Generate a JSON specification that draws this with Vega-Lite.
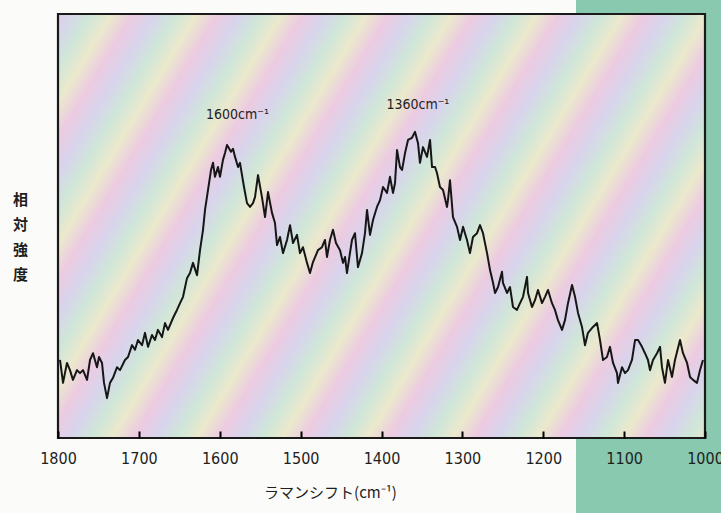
{
  "$schema": "https://vega.github.io/schema/vega-lite/v6.json",
  "width": 647,
  "height": 424,
  "autosize": {"type": "none"},
  "padding": {"left": 58, "top": 14, "right": 16, "bottom": 75},
  "background": "#fbfbfa",
  "config": {"view": {"stroke": null}},
  "datasets": {
    "spectrum": [
      {"w":1797.5,"i":18.4},{"w":1793.8,"i":13.0},{"w":1788.9,"i":17.7},{"w":1785.2,"i":16.0},{"w":1781.5,"i":13.7},
      {"w":1776.5,"i":16.0},{"w":1772.8,"i":15.3},{"w":1769.1,"i":16.0},{"w":1764.1,"i":13.7},{"w":1760.4,"i":18.4},
      {"w":1756.7,"i":20.0},{"w":1751.8,"i":16.7},{"w":1749.3,"i":19.1},{"w":1745.6,"i":17.7},{"w":1743.1,"i":13.0},
      {"w":1739.4,"i":9.4},{"w":1735.7,"i":13.0},{"w":1732.0,"i":14.2},{"w":1727.0,"i":16.7},{"w":1723.3,"i":16.0},
      {"w":1717.2,"i":18.4},{"w":1713.4,"i":19.1},{"w":1708.5,"i":21.9},{"w":1704.8,"i":20.8},{"w":1701.1,"i":23.1},
      {"w":1696.1,"i":21.9},{"w":1692.4,"i":24.8},{"w":1688.7,"i":21.5},{"w":1683.8,"i":24.3},{"w":1680.1,"i":23.1},
      {"w":1676.4,"i":25.5},{"w":1671.4,"i":23.8},{"w":1667.7,"i":27.1},{"w":1664.0,"i":25.5},{"w":1657.8,"i":28.3},
      {"w":1652.9,"i":30.2},{"w":1649.1,"i":31.8},{"w":1645.4,"i":33.3},{"w":1640.5,"i":37.7},{"w":1636.8,"i":38.9},
      {"w":1633.1,"i":41.3},{"w":1628.1,"i":38.4},{"w":1624.4,"i":44.3},{"w":1620.7,"i":49.1},{"w":1618.2,"i":53.8},
      {"w":1614.5,"i":58.5},{"w":1610.8,"i":63.2},{"w":1608.3,"i":64.9},{"w":1605.9,"i":61.6},{"w":1602.2,"i":63.9},
      {"w":1599.7,"i":61.6},{"w":1596.0,"i":65.6},{"w":1593.5,"i":67.2},{"w":1591.0,"i":69.1},{"w":1586.1,"i":67.5},
      {"w":1583.6,"i":68.2},{"w":1581.1,"i":66.3},{"w":1577.4,"i":63.9},{"w":1575.0,"i":64.9},{"w":1570.0,"i":59.2},
      {"w":1566.3,"i":55.4},{"w":1562.6,"i":54.5},{"w":1558.9,"i":55.4},{"w":1556.4,"i":56.8},{"w":1552.7,"i":62.0},
      {"w":1547.8,"i":56.8},{"w":1544.0,"i":52.1},{"w":1540.3,"i":58.0},{"w":1535.4,"i":53.1},{"w":1531.7,"i":50.7},
      {"w":1529.2,"i":45.5},{"w":1525.5,"i":47.4},{"w":1521.8,"i":43.6},{"w":1516.8,"i":46.7},{"w":1513.1,"i":50.2},
      {"w":1509.4,"i":46.0},{"w":1504.5,"i":47.9},{"w":1500.8,"i":43.6},{"w":1497.1,"i":45.0},{"w":1492.1,"i":41.3},
      {"w":1488.4,"i":38.9},{"w":1484.7,"i":41.5},{"w":1478.5,"i":44.3},{"w":1473.6,"i":45.0},{"w":1469.9,"i":46.7},
      {"w":1467.4,"i":42.7},{"w":1463.7,"i":46.7},{"w":1460.0,"i":49.1},{"w":1456.3,"i":46.0},{"w":1451.3,"i":44.3},
      {"w":1447.6,"i":41.3},{"w":1445.1,"i":42.7},{"w":1442.7,"i":38.9},{"w":1439.0,"i":43.6},{"w":1436.5,"i":46.7},
      {"w":1432.8,"i":48.3},{"w":1429.1,"i":40.3},{"w":1424.1,"i":43.6},{"w":1420.4,"i":48.3},{"w":1417.9,"i":53.8},
      {"w":1414.2,"i":47.9},{"w":1410.5,"i":51.4},{"w":1405.6,"i":54.5},{"w":1401.8,"i":56.1},{"w":1398.1,"i":59.2},
      {"w":1393.2,"i":57.8},{"w":1389.5,"i":61.6},{"w":1385.8,"i":57.8},{"w":1383.3,"i":60.1},{"w":1380.8,"i":67.9},
      {"w":1377.1,"i":63.9},{"w":1374.6,"i":63.2},{"w":1370.9,"i":67.2},{"w":1367.2,"i":70.3},{"w":1362.3,"i":70.8},
      {"w":1358.6,"i":72.2},{"w":1354.9,"i":69.6},{"w":1352.4,"i":64.9},{"w":1348.7,"i":68.6},{"w":1343.7,"i":66.3},
      {"w":1340.0,"i":70.3},{"w":1337.5,"i":63.9},{"w":1333.8,"i":63.9},{"w":1331.4,"i":62.5},{"w":1327.7,"i":59.2},
      {"w":1323.9,"i":58.5},{"w":1319.0,"i":54.5},{"w":1317.8,"i":56.1},{"w":1315.3,"i":60.8},{"w":1311.6,"i":52.1},
      {"w":1306.6,"i":49.8},{"w":1302.9,"i":46.7},{"w":1299.2,"i":49.8},{"w":1294.3,"i":46.7},{"w":1290.6,"i":43.6},
      {"w":1286.9,"i":47.4},{"w":1281.9,"i":48.3},{"w":1278.2,"i":50.2},{"w":1274.5,"i":48.3},{"w":1269.5,"i":43.6},
      {"w":1265.8,"i":39.6},{"w":1262.1,"i":36.6},{"w":1259.6,"i":34.2},{"w":1255.9,"i":35.6},{"w":1251.0,"i":39.2},
      {"w":1249.8,"i":36.6},{"w":1244.8,"i":34.2},{"w":1241.1,"i":35.6},{"w":1237.4,"i":30.9},{"w":1232.5,"i":30.2},
      {"w":1228.7,"i":31.8},{"w":1225.0,"i":33.3},{"w":1220.1,"i":38.0},{"w":1218.8,"i":34.2},{"w":1213.9,"i":30.9},
      {"w":1210.2,"i":32.5},{"w":1206.5,"i":34.9},{"w":1201.5,"i":31.8},{"w":1197.8,"i":33.3},{"w":1194.1,"i":34.9},
      {"w":1189.2,"i":31.8},{"w":1185.5,"i":30.2},{"w":1181.8,"i":27.8},{"w":1176.8,"i":25.5},{"w":1173.1,"i":27.8},
      {"w":1169.4,"i":31.8},{"w":1164.4,"i":36.1},{"w":1160.7,"i":33.3},{"w":1157.0,"i":29.5},{"w":1152.1,"i":26.2},
      {"w":1148.4,"i":21.9},{"w":1144.7,"i":24.8},{"w":1138.5,"i":26.2},{"w":1133.5,"i":27.1},{"w":1129.8,"i":23.1},
      {"w":1126.1,"i":18.4},{"w":1121.2,"i":19.1},{"w":1117.5,"i":21.5},{"w":1113.7,"i":17.7},{"w":1108.8,"i":15.3},
      {"w":1107.6,"i":13.0},{"w":1102.6,"i":16.7},{"w":1098.9,"i":15.3},{"w":1095.2,"i":16.0},{"w":1090.3,"i":18.4},
      {"w":1086.5,"i":23.1},{"w":1082.8,"i":23.1},{"w":1077.9,"i":21.5},{"w":1074.2,"i":20.0},{"w":1070.5,"i":18.4},
      {"w":1068.0,"i":16.0},{"w":1064.3,"i":18.4},{"w":1059.3,"i":20.0},{"w":1055.6,"i":21.5},{"w":1053.2,"i":16.7},
      {"w":1049.5,"i":13.0},{"w":1045.7,"i":18.4},{"w":1040.8,"i":14.4},{"w":1037.1,"i":18.4},{"w":1030.9,"i":23.1},
      {"w":1027.2,"i":20.0},{"w":1022.2,"i":17.7},{"w":1018.5,"i":14.4},{"w":1014.8,"i":13.7},{"w":1009.9,"i":13.0},
      {"w":1006.2,"i":16.0},{"w":1002.5,"i":18.4}
    ],
    "labels": [
      {"w": 1578, "i": 76.2, "text": "1600cm⁻¹"},
      {"w": 1355, "i": 78.5, "text": "1360cm⁻¹"}
    ]
  },
  "layer": [
    {
      "data": {"values": [{}]},
      "mark": {"type": "rect", "color": "#88c9b0", "clip": false},
      "encoding": {
        "x": {"datum": 1159.5, "type": "quantitative"},
        "x2": {"datum": 960},
        "y": {"datum": 104, "type": "quantitative"},
        "y2": {"datum": -20}
      }
    },
    {
      "data": {"values": [{}]},
      "mark": {
        "type": "rect",
        "color": {
          "gradient": "linear", "x1": 0, "y1": 0, "x2": 1.207, "y2": 0.476,
          "stops": [
            {"offset": 0, "color": "#e2d0e7"},
            {"offset": 0.0122, "color": "#d8d4ec"},{"offset": 0.0358, "color": "#cfe6d9"},{"offset": 0.0594, "color": "#ebe9cc"},
            {"offset": 0.083, "color": "#eccbe1"},{"offset": 0.1066, "color": "#d8d4ec"},{"offset": 0.1302, "color": "#cfe6d9"},
            {"offset": 0.1538, "color": "#ebe9cc"},{"offset": 0.1774, "color": "#eccbe1"},{"offset": 0.201, "color": "#d8d4ec"},
            {"offset": 0.2246, "color": "#cfe6d9"},{"offset": 0.2482, "color": "#ebe9cc"},{"offset": 0.2718, "color": "#eccbe1"},
            {"offset": 0.2954, "color": "#d8d4ec"},{"offset": 0.319, "color": "#cfe6d9"},{"offset": 0.3426, "color": "#ebe9cc"},
            {"offset": 0.3662, "color": "#eccbe1"},{"offset": 0.3898, "color": "#d8d4ec"},{"offset": 0.4134, "color": "#cfe6d9"},
            {"offset": 0.437, "color": "#ebe9cc"},{"offset": 0.4606, "color": "#eccbe1"},{"offset": 0.4842, "color": "#d8d4ec"},
            {"offset": 0.5078, "color": "#cfe6d9"},{"offset": 0.5314, "color": "#ebe9cc"},{"offset": 0.555, "color": "#eccbe1"},
            {"offset": 0.5786, "color": "#d8d4ec"},{"offset": 0.6022, "color": "#cfe6d9"},{"offset": 0.6258, "color": "#ebe9cc"},
            {"offset": 0.6494, "color": "#eccbe1"},{"offset": 0.673, "color": "#d8d4ec"},{"offset": 0.6966, "color": "#cfe6d9"},
            {"offset": 0.7202, "color": "#ebe9cc"},{"offset": 0.7438, "color": "#eccbe1"},{"offset": 0.7674, "color": "#d8d4ec"},
            {"offset": 0.791, "color": "#cfe6d9"},{"offset": 0.8146, "color": "#ebe9cc"},{"offset": 0.8382, "color": "#eccbe1"},
            {"offset": 0.8618, "color": "#d8d4ec"},{"offset": 0.8854, "color": "#cfe6d9"},{"offset": 0.909, "color": "#ebe9cc"},
            {"offset": 0.9326, "color": "#eccbe1"},{"offset": 0.9562, "color": "#d8d4ec"},{"offset": 0.9798, "color": "#cfe6d9"},
            {"offset": 1, "color": "#e6e5d1"}
          ]
        }
      },
      "encoding": {
        "x": {"datum": 1800, "type": "quantitative"},
        "x2": {"datum": 1000},
        "y": {"datum": 100, "type": "quantitative"},
        "y2": {"datum": 0}
      }
    },
    {
      "data": {"name": "spectrum"},
      "mark": {"type": "line", "color": "#161616", "strokeWidth": 2, "strokeJoin": "round"},
      "encoding": {
        "x": {
          "field": "w", "type": "quantitative",
          "scale": {"domain": [1000, 1800], "reverse": true, "nice": false, "zero": false},
          "axis": {
            "zindex": 3,
            "offset": -7,
            "values": [1800, 1700, 1600, 1500, 1400, 1300, 1200, 1100, 1000],
            "format": "d",
            "domain": false, "grid": false,
            "ticks": true, "tickSize": 7, "tickColor": "#000000", "tickWidth": 2, "tickOpacity": 1,
            "labelFont": "Liberation Sans Narrow, DejaVu Sans Condensed, sans-serif",
            "labelFontSize": 16, "labelColor": "#1e1e1e", "labelPadding": 12,
            "labelFlush": false,
            "labelDx": -2,
            "title": "ラマンシフト(cm⁻¹)",
            "titleFont": "Noto Sans CJK JP", "titleFontSize": 15, "titleFontWeight": "normal",
            "titleColor": "#1e1e1e", "titleX": 272, "titleY": 61, "titleAlign": "center", "titleBaseline": "middle"
          }
        },
        "y": {
          "field": "i", "type": "quantitative",
          "scale": {"domain": [0, 100], "nice": false, "zero": false},
          "axis": {
            "zindex": 3,
            "labels": false, "ticks": false, "domain": false, "grid": false,
            "title": ["相", "対", "強", "度"],
            "titleAngle": 0, "titleFont": "Noto Sans CJK JP", "titleFontSize": 15, "titleFontWeight": "bold",
            "titleColor": "#1e1e1e", "titleLineHeight": 25,
            "titleX": -38, "titleY": 178, "titleAlign": "center", "titleBaseline": "top"
          }
        }
      }
    },
    {
      "data": {"name": "labels"},
      "mark": {"type": "text", "font": "DejaVu Sans Condensed, Liberation Sans Narrow, sans-serif", "fontSize": 14, "color": "#1e1e1e", "baseline": "middle", "align": "center"},
      "encoding": {
        "x": {"field": "w", "type": "quantitative"},
        "y": {"field": "i", "type": "quantitative"},
        "text": {"field": "text"}
      }
    },
    {
      "data": {"values": [{}]},
      "mark": {"type": "rect", "filled": false, "stroke": "#1a1a1a", "strokeWidth": 2.2, "clip": false},
      "encoding": {
        "x": {"datum": 1800, "type": "quantitative"},
        "x2": {"datum": 1000},
        "y": {"datum": 100, "type": "quantitative"},
        "y2": {"datum": 0}
      }
    }
  ]
}
